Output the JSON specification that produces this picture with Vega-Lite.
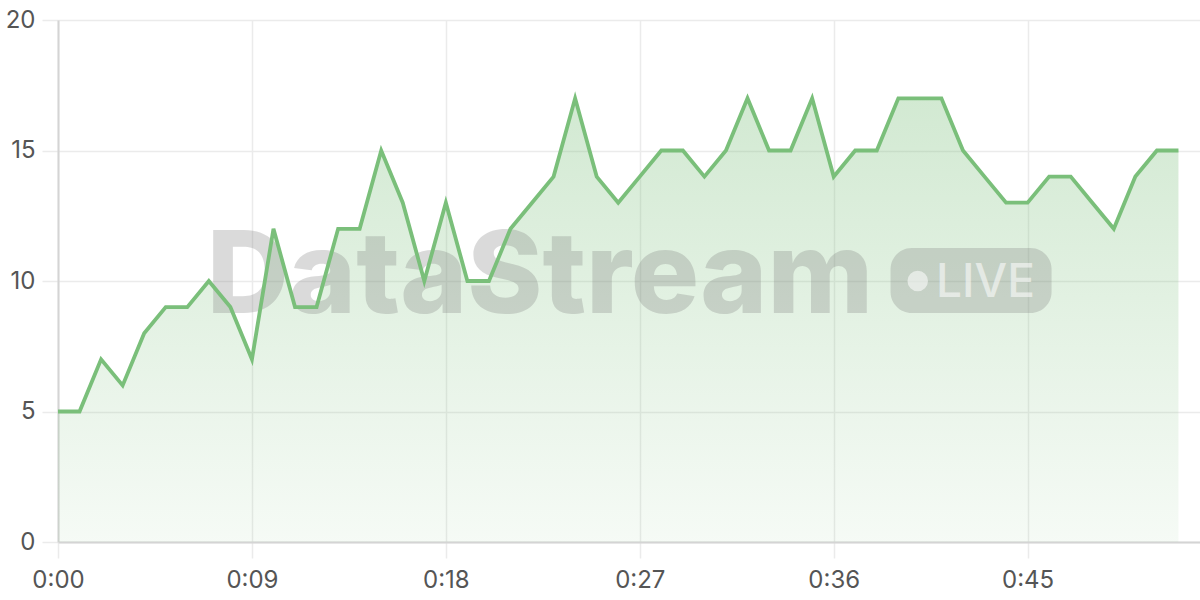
{
  "$schema": "https://vega.github.io/schema/vega-lite/v6.json",
  "description": "Live stream line chart with green gradient area and watermark.",
  "background": "#ffffff",
  "width": 1142,
  "height": 522,
  "autosize": {"type": "none"},
  "padding": {"left": 58, "top": 20, "right": 0, "bottom": 58},
  "data": {"values": [
    {"t": 0, "v": 5}, {"t": 1, "v": 5}, {"t": 2, "v": 7}, {"t": 3, "v": 6},
    {"t": 4, "v": 8}, {"t": 5, "v": 9}, {"t": 6, "v": 9}, {"t": 7, "v": 10},
    {"t": 8, "v": 9}, {"t": 9, "v": 7}, {"t": 10, "v": 12}, {"t": 11, "v": 9},
    {"t": 12, "v": 9}, {"t": 13, "v": 12}, {"t": 14, "v": 12}, {"t": 15, "v": 15},
    {"t": 16, "v": 13}, {"t": 17, "v": 10}, {"t": 18, "v": 13}, {"t": 19, "v": 10},
    {"t": 20, "v": 10}, {"t": 21, "v": 12}, {"t": 22, "v": 13}, {"t": 23, "v": 14},
    {"t": 24, "v": 17}, {"t": 25, "v": 14}, {"t": 26, "v": 13}, {"t": 27, "v": 14},
    {"t": 28, "v": 15}, {"t": 29, "v": 15}, {"t": 30, "v": 14}, {"t": 31, "v": 15},
    {"t": 32, "v": 17}, {"t": 33, "v": 15}, {"t": 34, "v": 15}, {"t": 35, "v": 17},
    {"t": 36, "v": 14}, {"t": 37, "v": 15}, {"t": 38, "v": 15}, {"t": 39, "v": 17},
    {"t": 40, "v": 17}, {"t": 41, "v": 17}, {"t": 42, "v": 15}, {"t": 43, "v": 14},
    {"t": 44, "v": 13}, {"t": 45, "v": 13}, {"t": 46, "v": 14}, {"t": 47, "v": 14},
    {"t": 48, "v": 13}, {"t": 49, "v": 12}, {"t": 50, "v": 14}, {"t": 51, "v": 15},
    {"t": 52, "v": 15}
  ]},
  "layer": [
    {
      "mark": {
        "type": "area",
        "color": {
          "gradient": "linear", "x1": 0, "y1": 0, "x2": 0, "y2": 1,
          "stops": [
            {"offset": 0, "color": "rgba(123,191,123,0.34)"},
            {"offset": 1, "color": "rgba(123,191,123,0.07)"}
          ]
        }
      },
      "encoding": {
        "x": {
          "field": "t", "type": "quantitative",
          "scale": {"domain": [0, 53], "nice": false},
          "axis": {
            "values": [0, 9, 18, 27, 36, 45],
            "labelExpr": "'0:' + (datum.value < 10 ? '0' : '') + datum.value",
            "title": null, "grid": true, "tickSize": 16, "labelPadding": 10, "labelFlush": false
          }
        },
        "y": {
          "field": "v", "type": "quantitative",
          "scale": {"domain": [0, 20], "nice": false},
          "axis": {"values": [0, 5, 10, 15, 20], "title": null, "grid": true, "tickSize": 16, "labelPadding": 7, "labelFlush": false}
        }
      }
    },
    {
      "data": {"values": [{}]},
      "mark": {"type": "text", "text": "DataStream", "font": "Inter", "fontWeight": 800, "fontSize": 114, "align": "left", "baseline": "alphabetic", "fill": "#7a7a7a", "opacity": 0.27},
      "encoding": {"x": {"datum": 6.9}, "y": {"datum": 8.77}}
    },
    {
      "data": {"values": [{}]},
      "mark": {"type": "rect", "fill": "#7a7a7a", "opacity": 0.27, "cornerRadius": 21},
      "encoding": {"x": {"datum": 38.64}, "x2": {"datum": 46.11}, "y": {"datum": 11.26}, "y2": {"datum": 8.77}}
    },
    {
      "data": {"values": [{}]},
      "mark": {"type": "point", "shape": "circle", "filled": true, "size": 420, "fill": "#ffffff", "opacity": 0.55},
      "encoding": {"x": {"datum": 39.9}, "y": {"datum": 10.0}}
    },
    {
      "data": {"values": [{}]},
      "mark": {"type": "text", "text": "LIVE", "font": "Inter", "fontWeight": 500, "fontSize": 46, "align": "left", "baseline": "alphabetic", "fill": "#ffffff", "opacity": 0.55},
      "encoding": {"x": {"datum": 40.75}, "y": {"datum": 9.39}}
    },
    {
      "mark": {"type": "line", "color": "#7abf7a", "strokeWidth": 3.8, "strokeJoin": "miter"},
      "encoding": {
        "x": {"field": "t", "type": "quantitative"},
        "y": {"field": "v", "type": "quantitative"}
      }
    }
  ],
  "config": {
    "view": {"stroke": null},
    "axis": {
      "labelFont": "Inter", "labelFontSize": 24, "labelColor": "#555555",
      "gridColor": "#ebebeb", "gridWidth": 1.5,
      "tickColor": "#ebebeb", "tickWidth": 1.5,
      "domainColor": "#d4d4d4", "domainWidth": 2
    }
  }
}
